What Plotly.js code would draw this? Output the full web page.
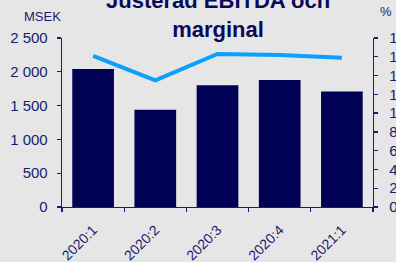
<!DOCTYPE html>
<html>
<head>
<meta charset="utf-8">
<script src="https://cdn.plot.ly/plotly-3.0.1.min.js"></script>
<style>html,body{margin:0;padding:0;background:#e6e6e6;}#chart{width:396px;height:262px;}</style>
</head>
<body>
<div id="chart"></div>
<script>
var categories = ["2020:1", "2020:2", "2020:3", "2020:4", "2021:1"];
var ebitda = [2040, 1440, 1800, 1880, 1710];
var margin = [16.1, 13.5, 16.3, 16.2, 15.9];
var leftTicks = [0, 500, 1000, 1500, 2000, 2500];
var rightTicks = [0, 2, 4, 6, 8, 10, 12, 14, 16, 18];

var navy = "#1a1a6e";
var font = "Liberation Sans, Arial, sans-serif";

var traces = [
  {type: "bar", x: categories, y: ebitda, marker: {color: "#000055"}, yaxis: "y", hoverinfo: "none"},
  {type: "scatter", mode: "lines", x: categories, y: margin, yaxis: "y2",
   line: {color: "#0aa0ff", width: 4}, hoverinfo: "none"}
];

var layout = {
  width: 396, height: 262,
  margin: {l: 62, r: 23, t: 38, b: 55, pad: 0},
  paper_bgcolor: "#e6e6e6", plot_bgcolor: "#e6e6e6",
  showlegend: false, bargap: 0.33,
  separators: ", ",
  font: {family: font, color: navy, size: 15},
  xaxis: {
    type: "category", showline: true, linecolor: navy, linewidth: 1.3,
    ticks: "outside", tickson: "boundaries", ticklen: 4, tickcolor: navy, tickwidth: 1.3,
    tickangle: -45, tickfont: {size: 14, color: navy}, ticklabelstandoff: 8,
    showgrid: false, zeroline: false
  },
  yaxis: {
    range: [0, 2500], tickvals: leftTicks, tickformat: ",d", separatethousands: true,
    showline: true, linecolor: navy, linewidth: 1.3,
    ticks: "outside", ticklen: 4, tickcolor: navy, tickwidth: 1.3,
    showgrid: false, zeroline: false, tickfont: {size: 15, color: navy},
    ticklabelstandoff: 6
  },
  yaxis2: {
    range: [0, 18], tickvals: rightTicks, overlaying: "y", side: "right",
    showline: true, linecolor: navy, linewidth: 1.3,
    ticks: "outside", ticklen: 4, tickcolor: navy, tickwidth: 1.3,
    showgrid: false, zeroline: false, tickfont: {size: 15, color: navy},
    ticklabelstandoff: 8
  },
  annotations: [
    {text: "<b>Justerad EBITDA och<br>marginal</b>", xref: "paper", yref: "paper",
     x: (217.5 - 62) / 311, y: 1, xanchor: "center", yanchor: "bottom", yshift: -6,
     showarrow: false, font: {family: font, size: 22, color: "#0a0a5a"}},
    {text: "MSEK", xref: "paper", yref: "paper", x: (42.5 - 62) / 311, y: 1,
     xanchor: "center", yanchor: "bottom", yshift: 12, showarrow: false,
     font: {family: font, size: 13, color: navy}},
    {text: "%", xref: "paper", yref: "paper", x: (385.5 - 62) / 311, y: 1,
     xanchor: "center", yanchor: "bottom", yshift: 17, showarrow: false,
     font: {family: font, size: 13, color: navy}}
  ]
};

Plotly.newPlot("chart", traces, layout, {displayModeBar: false, staticPlot: true});
</script>
</body>
</html>
